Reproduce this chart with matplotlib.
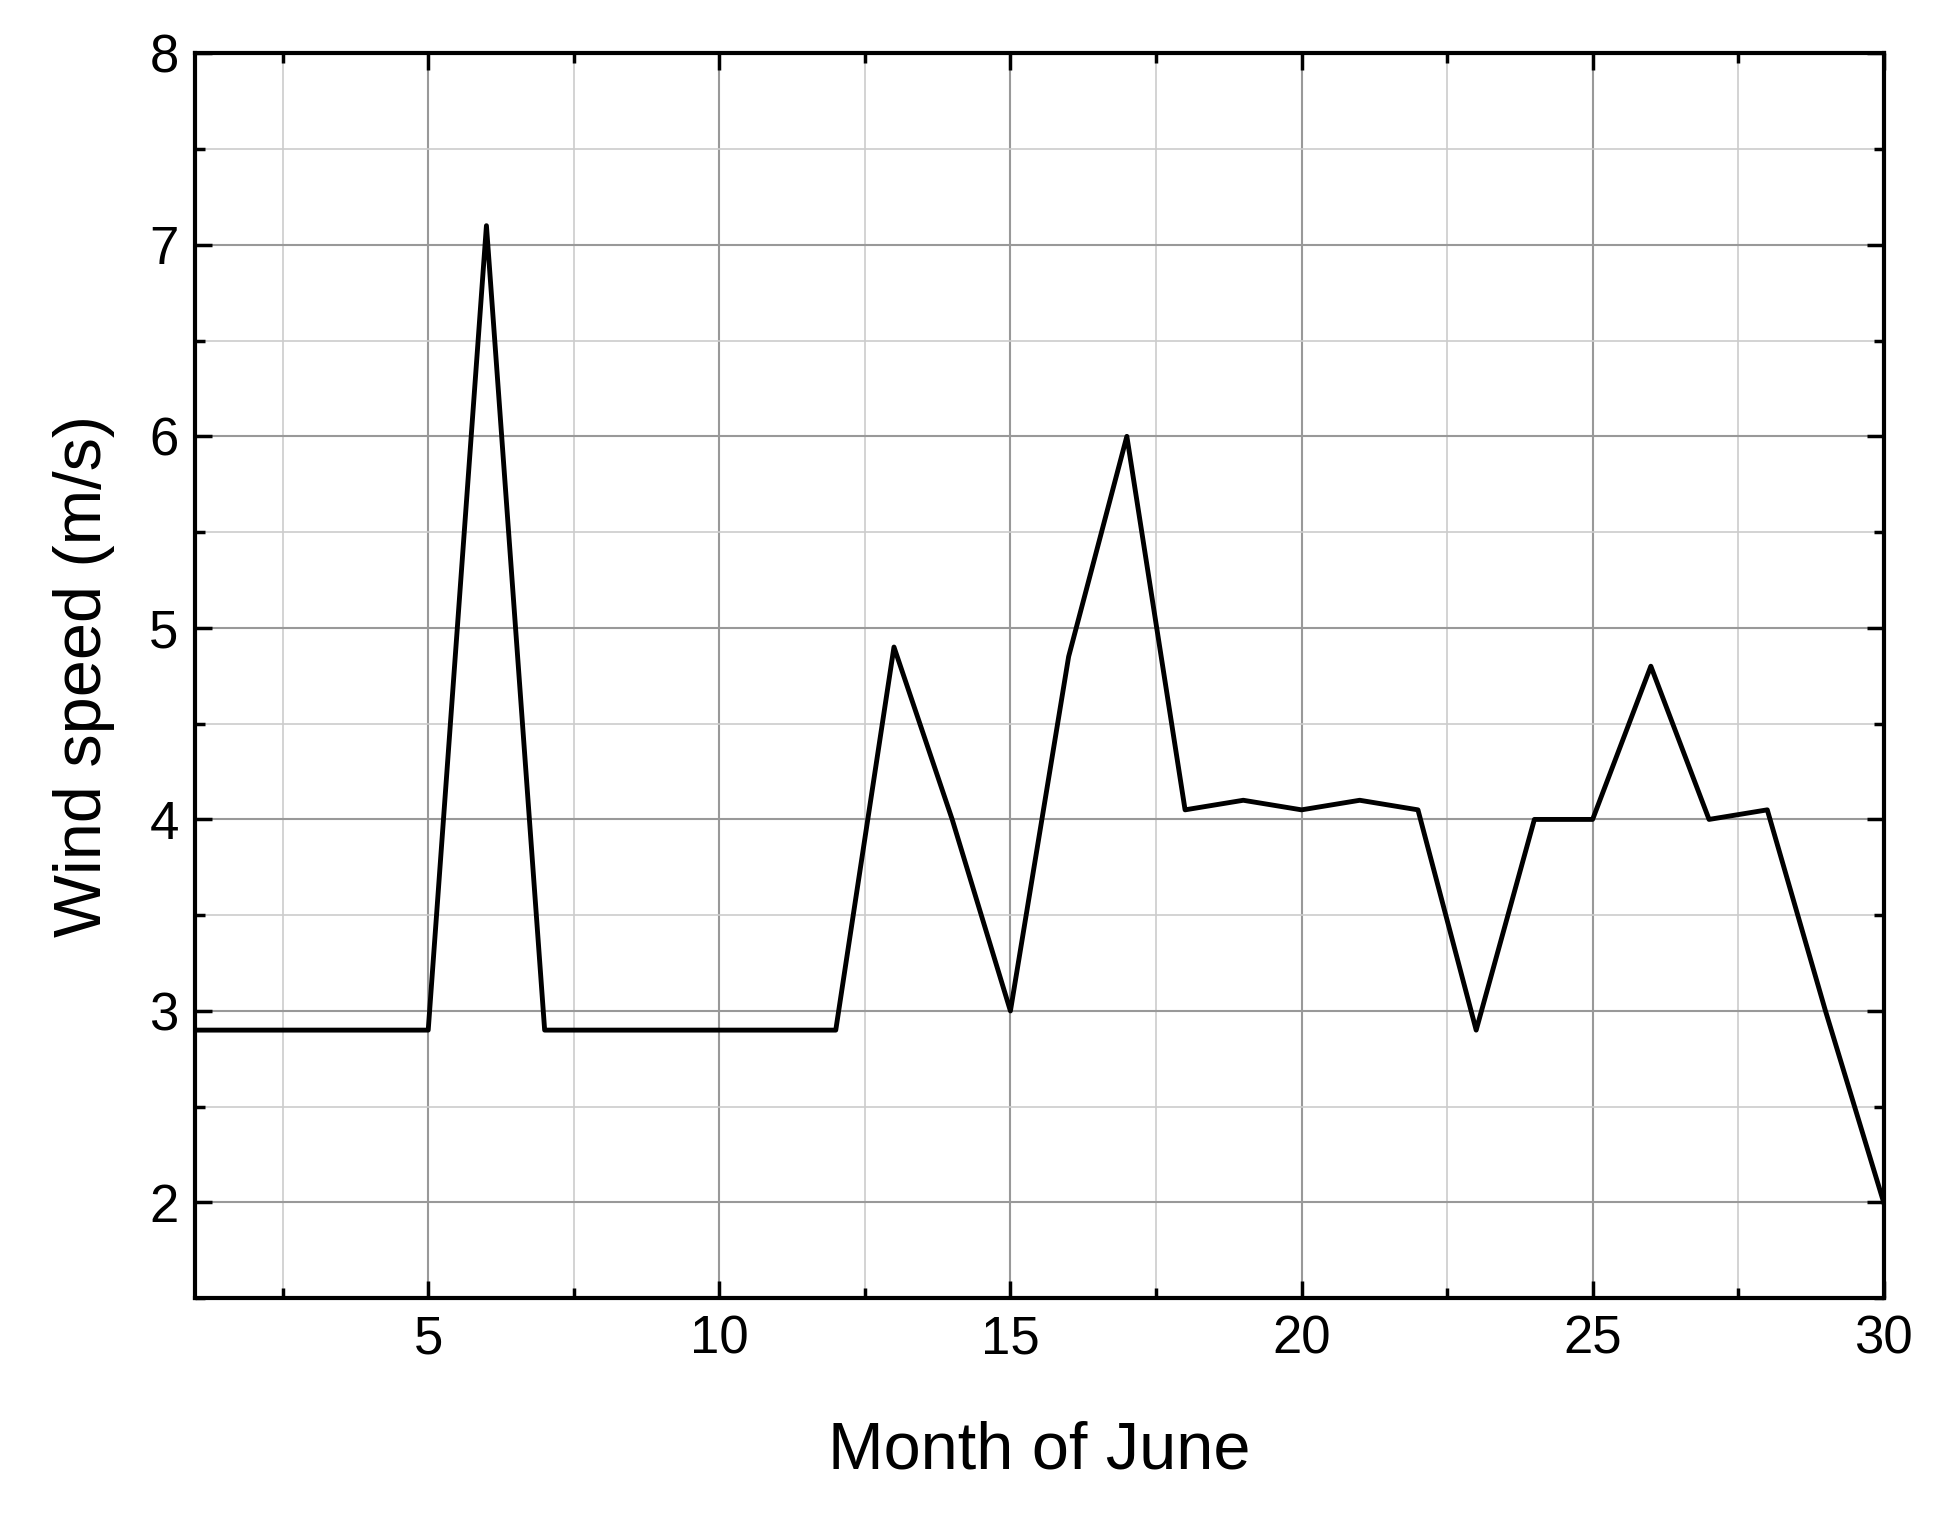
import matplotlib
matplotlib.use("Agg")
import matplotlib.pyplot as plt
from matplotlib.ticker import MultipleLocator

plt.rcParams['font.family'] = ['Liberation Sans', 'DejaVu Sans']

days = list(range(1, 31))
wind = [2.9, 2.9, 2.9, 2.9, 2.9, 7.1, 2.9, 2.9, 2.9, 2.9,
        2.9, 2.9, 4.9, 4.0, 3.0, 4.85, 6.0, 4.05, 4.1, 4.05,
        4.1, 4.05, 2.9, 4.0, 4.0, 4.8, 4.0, 4.05, 3.0, 2.0]

fig = plt.figure(figsize=(19.34, 15.22), dpi=100)
ax = fig.add_axes([0.101, 0.147, 0.873, 0.818])
ax.plot(days, wind, color='black', lw=3.5)

ax.set_xlim(1, 30)
ax.set_ylim(1.5, 8)
ax.xaxis.set_major_locator(MultipleLocator(5))
ax.xaxis.set_minor_locator(MultipleLocator(2.5))
ax.yaxis.set_major_locator(MultipleLocator(1))
ax.yaxis.set_minor_locator(MultipleLocator(0.5))
ax.set_yticks([2, 3, 4, 5, 6, 7, 8])
ax.grid(which='major', color='#999999', lw=1.5)
ax.grid(which='minor', color='#cccccc', lw=1.2)
ax.set_axisbelow(True)
ax.tick_params(which='both', direction='in', top=True, right=True, width=2.5)
ax.tick_params(which='major', length=12, labelsize=38, pad=12)
ax.tick_params(which='minor', length=7)
for s in ax.spines.values():
    s.set_linewidth(3)

ax.set_xlabel('Month of June', fontsize=48, labelpad=40)
ax.set_ylabel('Wind speed (m/s)', fontsize=48, labelpad=25)

fig.savefig('out.png', dpi=100)
